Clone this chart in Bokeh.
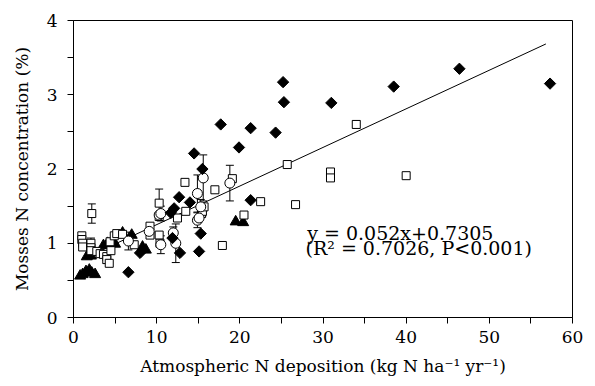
from bokeh.plotting import figure
from bokeh.models import ColumnDataSource, Whisker, TeeHead, Label, Range1d, FixedTicker
from bokeh.embed import file_html
from bokeh.resources import INLINE

# ---- data ----
dia_x = [25.2, 25.3, 31.0, 38.5, 46.4, 57.3, 17.7, 21.3, 24.3, 19.9, 14.5, 15.5, 21.3, 12.7, 14.0, 12.1, 11.7, 15.3, 15.1, 12.8, 11.9, 6.6, 8.0]
dia_y = [3.17, 2.90, 2.89, 3.11, 3.35, 3.15, 2.60, 2.55, 2.49, 2.29, 2.21, 2.00, 1.58, 1.62, 1.55, 1.47, 1.41, 1.13, 0.89, 0.87, 1.07, 0.61, 0.87]

tri_x = [0.8, 1.1, 1.5, 1.9, 2.2, 2.6, 1.6, 2.1, 3.6, 4.1, 5.0, 5.9, 7.0, 8.3, 8.7, 19.5, 20.4]
tri_y = [0.56, 0.58, 0.62, 0.64, 0.60, 0.58, 0.82, 0.83, 0.97, 1.00, 0.99, 1.14, 1.11, 0.95, 0.91, 1.29, 1.28]

sq_x = [1.0, 1.0, 1.1, 1.1, 2.1, 2.1, 2.1, 2.2, 2.8, 3.2, 3.6, 4.0, 4.0, 4.3, 4.5, 4.4, 4.9, 5.2, 5.9, 7.3,
        9.2, 9.2, 10.3, 10.3, 10.3, 10.4, 12.5, 13.5, 13.4, 15.4, 15.5, 15.7, 17.0, 17.9, 19.1, 20.5, 22.5,
        25.7, 26.7, 30.9, 30.9, 34.0, 40.0]
sq_y = [1.10, 1.05, 1.00, 0.95, 1.00, 0.94, 0.90, 1.40, 0.89, 0.86, 0.85, 0.82, 0.78, 0.73, 0.90, 1.02, 1.10, 1.13, 1.12, 0.98,
        1.23, 1.11, 1.54, 1.36, 1.11, 1.00, 1.34, 1.43, 1.82, 1.40, 1.43, 1.49, 1.72, 0.97, 1.87, 1.38, 1.56,
        2.06, 1.52, 1.96, 1.88, 2.60, 1.91]
sq_err = [0, 0, 0, 0, 0.07, 0, 0, 0.13, 0, 0, 0, 0, 0.05, 0, 0, 0, 0, 0, 0, 0,
          0, 0, 0.19, 0, 0, 0, 0, 0, 0, 0, 0.06, 0, 0, 0, 0, 0, 0,
          0, 0, 0.03, 0.03, 0.05, 0]

cir_x = [6.6, 10.3, 10.5, 10.5, 12.0, 12.3, 14.9, 14.9, 15.1, 15.3, 15.6, 18.8, 9.1]
cir_y = [1.03, 1.38, 1.40, 0.98, 1.14, 1.00, 1.67, 1.31, 1.34, 1.49, 1.88, 1.81, 1.16]
cir_err = [0.12, 0, 0.10, 0.12, 0.08, 0.26, 0.25, 0.10, 0, 0.10, 0.31, 0.24, 0]

fit_slope = 0.052
fit_intercept = 0.7305
fit_x = [1.0, 56.8]

x_ticks = [0, 10, 20, 30, 40, 50, 60]
y_ticks = [0, 1, 2, 3, 4]

FONT = "DejaVu Serif"

p = figure(width=587, height=378, output_backend="svg", toolbar_location=None,
           x_range=Range1d(0, 60), y_range=Range1d(0, 4),
           min_border_left=73, min_border_right=15, min_border_top=20, min_border_bottom=60)
p.xgrid.visible = False
p.ygrid.visible = False
p.outline_line_color = "black"
p.outline_line_width = 1
p.background_fill_color = "white"
p.border_fill_color = "white"

for ax in (p.xaxis[0], p.yaxis[0]):
    ax.major_tick_in = 0
    ax.minor_tick_in = 0
    ax.major_tick_out = 6
    ax.minor_tick_out = 6
    ax.axis_line_color = "black"
    ax.major_tick_line_color = "black"
    ax.minor_tick_line_color = "black"
    ax.major_label_text_font = FONT
    ax.major_label_text_font_size = "17px"
    ax.major_label_text_color = "black"
    ax.axis_label_text_font = FONT
    ax.axis_label_text_font_size = "17px"
    ax.axis_label_text_font_style = "normal"
    ax.axis_label_text_color = "black"

p.xaxis.ticker = FixedTicker(ticks=x_ticks, minor_ticks=[v + 5 for v in x_ticks[:-1]])
p.yaxis.ticker = FixedTicker(ticks=y_ticks, minor_ticks=[v + 0.5 for v in y_ticks[:-1]])
p.xaxis.major_label_standoff = 7
p.yaxis.major_label_standoff = 10
p.xaxis.axis_label = "Atmospheric N deposition (kg N ha\u207b\u00b9 yr\u207b\u00b9)"
p.yaxis.axis_label = "Mosses N concentration (%)"
p.xaxis.axis_label_standoff = 10
p.yaxis.axis_label_standoff = 12

# regression line
p.line(fit_x, [fit_slope * v + fit_intercept for v in fit_x], line_color="black", line_width=1)

# error bars
def add_err(xs, ys, es):
    xx = [x for x, e in zip(xs, es) if e > 0]
    lo = [y - e for y, e in zip(ys, es) if e > 0]
    hi = [y + e for y, e in zip(ys, es) if e > 0]
    src = ColumnDataSource(dict(x=xx, lower=lo, upper=hi))
    w = Whisker(base="x", lower="lower", upper="upper", source=src, dimension="height",
                line_color="black", line_width=1,
                upper_head=TeeHead(size=8, line_color="black", line_width=1),
                lower_head=TeeHead(size=8, line_color="black", line_width=1))
    p.add_layout(w)

add_err(sq_x, sq_y, sq_err)
add_err(cir_x, cir_y, cir_err)

p.scatter(tri_x, tri_y, marker="triangle", size=11, fill_color="black", line_color="black")
p.scatter(sq_x, sq_y, marker="square", size=8, fill_color="white", line_color="black", line_width=1)
p.scatter(cir_x, cir_y, marker="circle", size=10, fill_color="white", line_color="black", line_width=1)
p.scatter(dia_x, dia_y, marker="square", size=8, angle=0.785398, fill_color="black", line_color="black")

p.add_layout(Label(x=28.1, y=1.14, text="y = 0.052x+0.7305", text_font=FONT,
                   text_font_size="19px", text_color="black", text_baseline="alphabetic"))
p.add_layout(Label(x=27.9, y=0.94, text="(R\u00b2 = 0.7026, P<0.001)", text_font=FONT,
                   text_font_size="19px", text_color="black", text_baseline="alphabetic"))

open("out.html", "w").write(file_html(p, INLINE))
